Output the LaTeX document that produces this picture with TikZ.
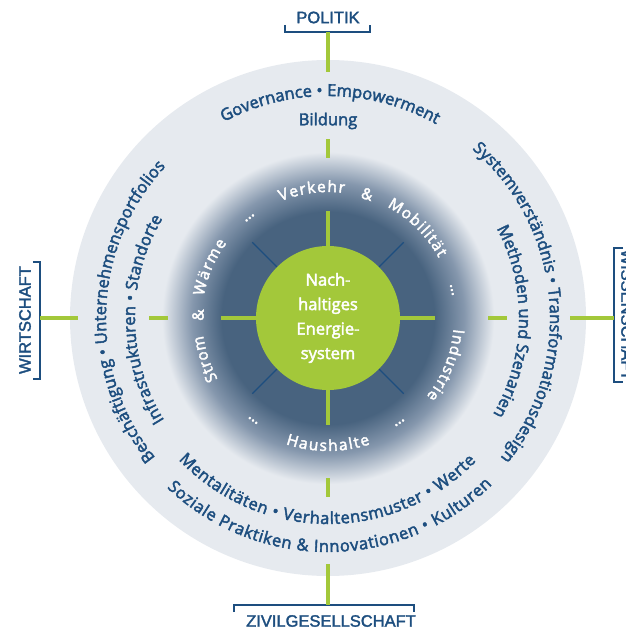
\documentclass[tikz,border=0pt]{standalone}
\usepackage{fontspec}
\setmainfont{Open Sans}[FakeBold=2.6]
\newfontfamily\labelfamily{Liberation Sans}[FakeBold=2]
\usetikzlibrary{decorations.text}

\definecolor{dblue}{HTML}{1D4E7F}
\definecolor{lgreen}{HTML}{A3C83A}
\definecolor{ringgrey}{HTML}{E6EAEF}
\definecolor{hubblue}{HTML}{48637F}
\definecolor{hubmid}{HTML}{8597AD}

\pgfdeclareradialshading{hubfade}{\pgfpoint{0bp}{0bp}}{color(0bp)=(hubblue); color(16bp)=(hubblue); color(20.5bp)=(hubmid); color(25bp)=(ringgrey); color(50bp)=(ringgrey)}

\newcommand\ringfont{\fontsize{16.5}{19}\selectfont}
\newcommand\hubfont{\fontsize{15.5}{17}\selectfont}

\tikzset{
  spoke/.style={lgreen,line width=4.5pt},
  ray/.style={dblue,line width=1.1pt},
  bracket/.style={dblue,line width=1.2pt},
  sector/.style={dblue,inner sep=0pt,font=\labelfamily\fontsize{16.5}{18}\selectfont},
  bluetext/.style={decorate,decoration={text along path,text align={fit to path},text color=dblue,text={|\ringfont|#1}}},
  whitetext/.style={decorate,decoration={text along path,text align={fit to path},text color=white,text={|\hubfont|#1}}},
  hubmark/.style={white,inner sep=0pt,font=\hubfont},
}

\begin{document}
\begin{tikzpicture}[x=1pt,y=1pt]
\useasboundingbox (-328,-311) rectangle (298,318);
\clip (-328,-311) rectangle (298,318);

% rings
\fill[ringgrey] (0,0) circle (258);
\shade[shading=hubfade] (0,0) circle (166);

% hub
\node[circle,fill=lgreen,minimum size=144pt,inner sep=0pt,text=white,align=center,
  font=\fontsize{16.5}{24.5}\selectfont] (hub) at (0,0) {Nach-\\haltiges\\Energie-\\system};
\foreach \a in {45,135,225,315}
  \draw[ray] (hub.\a) -- (\a:107);
\foreach \a in {0,90,180,270}{
  \draw[spoke] (hub.\a) -- (\a:107);
  \draw[spoke] (\a:160) -- (\a:179);
}

% sectors
\node[sector] (politik) at (0,300.5) {POLITIK};
\coordinate (politik-b) at (0,286);
\draw[bracket] (-43,293) |- (42,286) -- (42,293);
\draw[spoke] (90:246) -- (politik-b);

\node[sector,rotate=90] (wirtschaft) at (-303,-2) {WIRTSCHAFT};
\coordinate (wirtschaft-b) at (-288,0);
\draw[bracket] (-295,56) -| (-288,-61) -- (-295,-61);
\draw[spoke] (180:250) -- (wirtschaft-b);

\node[sector,rotate=-90] (wissenschaft) at (299,3) {WISSENSCHAFT};
\coordinate (wissenschaft-b) at (286,0);
\draw[bracket] (295,70) -| (286,-64) -- (295,-64);
\draw[spoke] (0:242) -- (wissenschaft-b);

\node[sector] (zivil) at (3,-303) {ZIVILGESELLSCHAFT};
\coordinate (zivil-b) at (0,-287);
\draw[bracket] (-94,-294) |- (86,-287) -- (86,-294);
\draw[spoke] (270:246) -- (zivil-b);

% outer ring texts
\path[bluetext={Governance • Empowerment}] (118:222) arc[start angle=118,end angle=61,radius=222];
\node[dblue,font=\ringfont] (bildung) at (0,197) {Bildung};
\path[bluetext={Systemverständnis • Transformationsdesign}] (49.5:222) arc[start angle=49.5,end angle=-39,radius=222];
\path[bluetext={Methoden und Szenarien}] (28:191) arc[start angle=28,end angle=-29,radius=191];
\path[bluetext={Beschäftigung • Unternehmensportfolios}] (219:222) arc[start angle=219,end angle=137,radius=222];
\path[bluetext={Infrastrukturen • Standorte}] (212:193) arc[start angle=212,end angle=149,radius=193];
\path[bluetext={Mentalitäten • Verhaltensmuster • Werte}] (223.5:206) arc[start angle=223.5,end angle=316,radius=206];
\path[bluetext={Soziale Praktiken {\&} Innovationen • Kulturen}] (226.5:234) arc[start angle=226.5,end angle=314.5,radius=234];

% hub ring texts
\path[whitetext=Verkehr] (112:126) arc[start angle=112,end angle=82.5,radius=126];
\path[whitetext=Mobilität] (62:126) arc[start angle=62,end angle=28.5,radius=126];
\path[whitetext=Industrie] (-5:126) arc[start angle=-5,end angle=-38.5,radius=126];
\path[whitetext=Haushalte] (251.5:133) arc[start angle=251.5,end angle=288.5,radius=133];
\path[whitetext=Strom] (209:126) arc[start angle=209,end angle=188,radius=126];
\path[whitetext=Wärme] (170:126) arc[start angle=170,end angle=143.5,radius=126];
\foreach \a/\n in {72.4/vm,178.7/sw}
  \node[hubmark,rotate=\a-90] (amp-\n) at (\a:130) {\&};
\foreach \a/\n in {128/a,12.7/b,-55.6/c,233.8/d}
  \node[hubmark,rotate=\a-90] (dots-\n) at (\a:127) {…};
\end{tikzpicture}
\end{document}
